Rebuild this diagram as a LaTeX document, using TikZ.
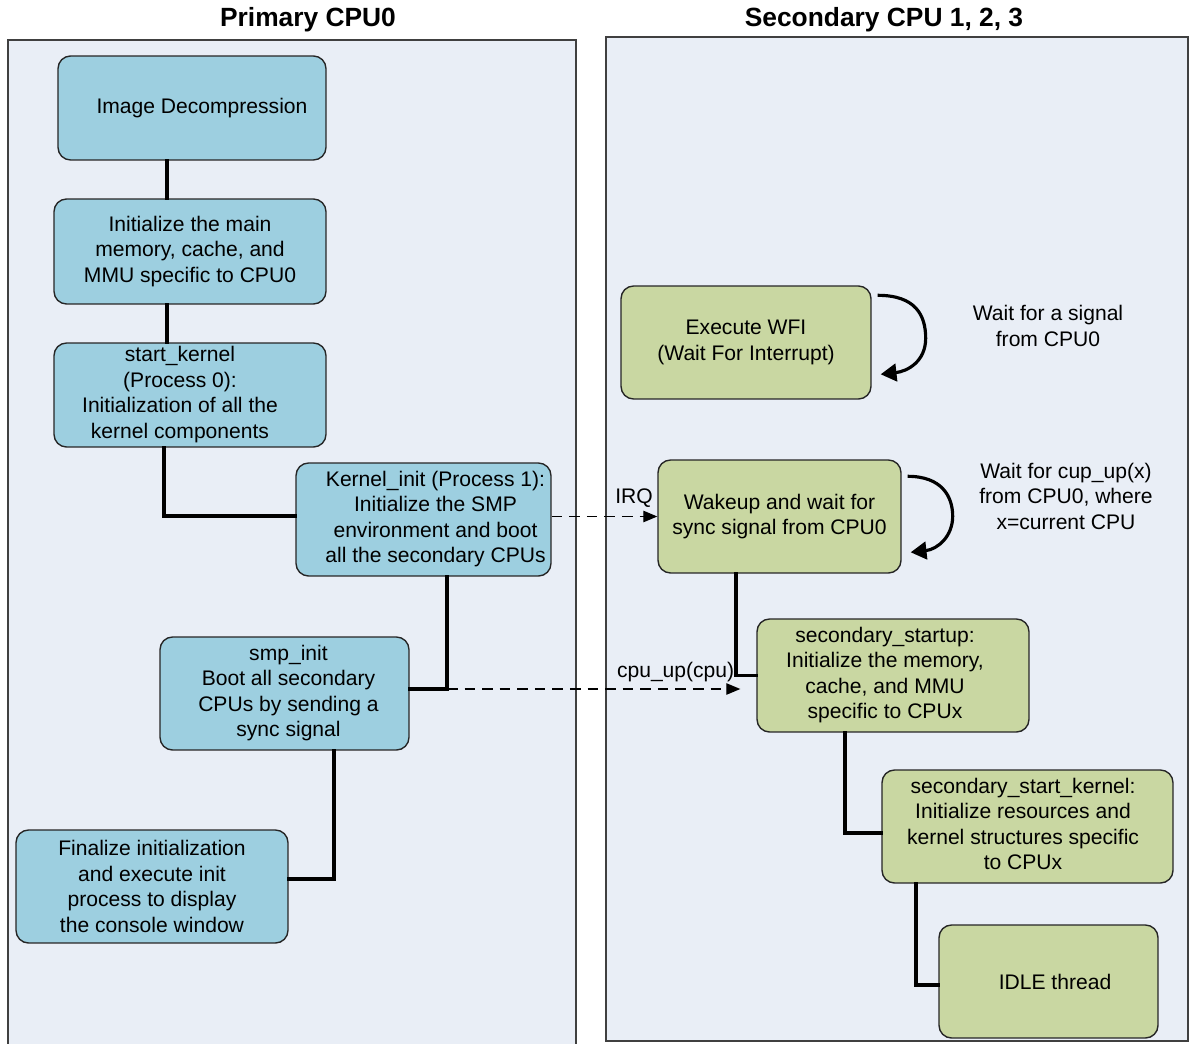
\documentclass[tikz,border=0pt]{standalone}
\usepackage{fontspec}
\setmainfont{Liberation Sans}
\usetikzlibrary{arrows.meta,calc}
\definecolor{panelbg}{HTML}{E9EEF6}
\definecolor{panelline}{HTML}{404040}
\definecolor{bluebox}{HTML}{9DCFE0}
\definecolor{greenbox}{HTML}{C9D7A2}
\newcommand{\shiftlines}[2]{\hspace*{#1}\begin{tabular}{@{}c@{}}#2\end{tabular}}
\tikzset{
  panel/.style={fill=panelbg, draw=panelline, line width=0.8pt},
  boxbase/.style={draw=black!85, line width=0.8pt, rounded corners=0.25cm, align=center,
    inner sep=2pt, font=\fontsize{12}{14.5}\selectfont, minimum height=2.26cm},
  bluestep/.style={boxbase, fill=bluebox},
  greenstep/.style={boxbase, fill=greenbox},
  conn/.style={line width=1.8pt, line cap=rect},
  sig/.style={dashed, line width=0.8pt, dash pattern=on 6pt off 4pt, -{Triangle[length=8pt,width=6.5pt]}},
  loopy/.style={line width=1.8pt, -{Triangle[length=9pt,width=10pt]}},
  lbl/.style={font=\fontsize{12}{14.5}\selectfont, align=center, inner sep=1pt},
  ttl/.style={font=\bfseries\fontsize{15}{18}\selectfont}
}
\begin{document}
\begin{tikzpicture}[x=0.02cm, y=-0.02cm]
\clip (0,0) rectangle (1193,1044);
\fill[white] (0,0) rectangle (1193,1044);
% panels
\path[panel] (8,40) rectangle (576,1060);
\path[panel] (606,37) rectangle (1188,1041);
% titles
\node[ttl] (t1) at (308,20) {Primary CPU0};
\node[ttl] (t2) at (884,20) {Secondary CPU 1, 2, 3};
% primary boxes
\node[bluestep, minimum width=5.36cm, minimum height=2.08cm] (img) at (192,108) {\hspace*{0.4cm}Image Decompression};
\node[bluestep, minimum width=5.44cm, minimum height=2.1cm] (mem) at (190,251.5) {Initialize the main\\memory, cache, and\\MMU specific to CPU0};
\node[bluestep, minimum width=5.44cm, minimum height=2.08cm, inner ysep=0pt] (sk) at (190,395) {\shiftlines{-0.4cm}{start\_kernel\\(Process 0):\\Initialization of all the\\kernel components}};
\node[bluestep, minimum width=5.1cm] (ki) at (423.5,519.5) {\shiftlines{0.48cm}{Kernel\_init (Process 1):\\Initialize the SMP\\environment and boot\\all the secondary CPUs}};
\node[bluestep, minimum width=4.98cm] (smp) at (284.5,693.5) {\shiftlines{0.16cm}{smp\_init\\Boot all secondary\\CPUs by sending a\\sync signal}};
\node[bluestep, minimum width=5.44cm] (fin) at (152,886.5) {Finalize initialization\\and execute init\\process to display\\the console window};
% secondary boxes
\node[greenstep, minimum width=5.0cm] (wfi) at (746,342.5) {Execute WFI\\(Wait For Interrupt)};
\node[greenstep, minimum width=4.86cm] (wake) at (779.5,516.5) {Wakeup and wait for\\sync signal from CPU0};
\node[greenstep, minimum width=5.44cm] (ss) at (893,675.5) {\shiftlines{-0.32cm}{secondary\_startup:\\Initialize the memory,\\cache, and MMU\\specific to CPUx}};
\node[greenstep, minimum width=5.82cm] (ssk) at (1027.5,826.5) {\shiftlines{-0.18cm}{secondary\_start\_kernel:\\Initialize resources and\\kernel structures specific\\to CPUx}};
\node[greenstep, minimum width=4.38cm] (idle) at (1048.5,981.5) {\hspace*{0.26cm}IDLE thread};
% side notes
\node[lbl] (n1) at (1048,326) {Wait for a signal\\from CPU0};
\node[lbl] (n2) at (1066,496) {Wait for cup\_up(x)\\from CPU0, where\\x=current CPU};
% primary connectors
\draw[conn] ($(img.south)+(-25,0)$) -- ($(mem.north)+(-23,0)$);
\draw[conn] ($(mem.south)+(-23,0)$) -- ($(sk.north)+(-23,0)$);
\draw[conn] ($(sk.south)+(-26,0)$) |- ($(ki.west)+(0,-3.5)$);
\path ($(ki.south)+(23.5,0)$) coordinate (kd);
\draw[conn] (kd) |- ($(smp.east)+(0,-4.5)$);
\draw[conn] ($(smp.south)+(49.5,0)$) |- ($(fin.east)+(0,-7.5)$);
% secondary connectors
\draw[conn] ($(wake.south)+(-43.5,0)$) |- (ss.west);
\draw[conn] ($(ss.south)+(-48,0)$) |- ($(ssk.west)+(0,6.5)$);
\draw[conn] ($(ssk.south)+(-111.5,0)$) |- ($(idle.west)+(0,3.5)$);
% signals
\draw[sig] (ki.east |- wake.west) -- node[lbl, pos=0.78, above=4pt] (irq) {IRQ} (wake.west);
\coordinate (kc) at ($(kd |- smp.east)+(0,-4.5)$);
\coordinate (cu) at ($(ss.west |- smp.east)+(-16,-4.5)$);
\draw[sig] (kc) -- (cu);
\node[lbl, anchor=south east] (cpl) at ($(ss.west |- smp.east)+(-20,-10)$) {cpu\_up(cpu)};
% loops
\draw[loopy] ($(wfi.north east)+(6,10)$) .. controls ($(wfi.north east)+(44,10)$) and ($(wfi.north east)+(54,30)$) .. ($(wfi.north east)+(54,53)$) .. controls ($(wfi.north east)+(54,76)$) and ($(wfi.north east)+(36,86)$) .. ($(wfi.north east)+(9,89)$);
\draw[loopy] ($(wake.north east)+(6,17)$) .. controls ($(wake.north east)+(40,17)$) and ($(wake.north east)+(51,37)$) .. ($(wake.north east)+(51,57)$) .. controls ($(wake.north east)+(51,77)$) and ($(wake.north east)+(36,90)$) .. ($(wake.north east)+(9,93)$);
\end{tikzpicture}
\end{document}
